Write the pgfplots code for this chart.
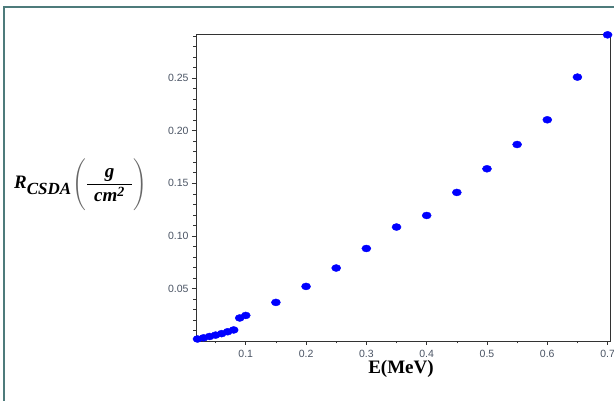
\documentclass[border=0pt]{standalone}
\usepackage{pgfplots}
\pgfplotsset{compat=1.18}
\usepackage{amsmath}
\usepackage{fontspec}
\setmainfont{Liberation Serif}
\newfontfamily\ticksfont{Liberation Sans}
\definecolor{framecol}{HTML}{4D7B7B}
\definecolor{tickcol}{HTML}{4A5464}

\begin{document}
\begin{tikzpicture}[x=1pt,y=1pt]
  \path[use as bounding box, fill=white] (0,0) rectangle (614,401);
  \draw[framecol, line width=1.6pt] (4,0) -- (4,394) -- (614,394);

  \begin{axis}[
    at={(196pt,60pt)}, anchor=south west,
    scale only axis, width=414pt, height=307pt,
    xmin=0.0175, xmax=0.704, ymin=0, ymax=0.292,
    axis line style={black!80, line width=0.7pt},
    tick align=outside, xtick pos=left, ytick pos=left,
    xtick={0.1,0.2,0.3,0.4,0.5,0.6,0.7},
    minor xtick={0.05,0.15,0.25,0.35,0.45,0.55,0.65},
    ytick={0.05,0.10,0.15,0.20,0.25},
    minor ytick={0.01,0.02,0.03,0.04,0.06,0.07,0.08,0.09,0.11,0.12,0.13,0.14,0.16,0.17,0.18,0.19,0.21,0.22,0.23,0.24,0.26,0.27,0.28,0.29},
    major tick length=4pt, minor tick length=2.5pt,
    tick style={black!80, line width=0.6pt},
    every tick label/.append style={font=\ticksfont\fontsize{10.5}{10.5}\selectfont, text=tickcol},
    xticklabel style={yshift=-2pt},
    /pgf/number format/assume math mode=true,
    xticklabel style={/pgf/number format/.cd, fixed, precision=1},
    yticklabel style={/pgf/number format/.cd, fixed, fixed zerofill, precision=2},
    scaled y ticks=false, scaled x ticks=false,
    clip=false,
  ]
    % CSDA range versus electron energy
    \addplot[only marks, mark=*, mark size=3.5pt, color=blue,
             mark options={xscale=1.3, draw=blue, fill=blue}]
      coordinates {
        (0.02,0.0019) (0.03,0.0030) (0.04,0.0043) (0.05,0.0056)
        (0.06,0.0070) (0.07,0.0088) (0.08,0.0105) (0.09,0.0219)
        (0.10,0.0243) (0.15,0.0367) (0.20,0.0519) (0.25,0.0694)
        (0.30,0.0880) (0.35,0.1084) (0.40,0.1194) (0.45,0.1413)
        (0.50,0.1638) (0.55,0.1869) (0.60,0.2104) (0.65,0.2510)
        (0.70,0.2912)
      };
  \end{axis}

  % axis titles
  \node[anchor=center, inner sep=0pt] at (401,32)
    {\fontsize{19}{19}\selectfont\bfseries E(MeV)};
  \node[anchor=base west, inner sep=0pt] at (14,212) {%
    \fontsize{19}{19}\selectfont\bfseries\itshape R\raisebox{-6pt}{\fontsize{17}{17}\selectfont CSDA}\hspace{1pt}%
    ${\color{black!60}\left(\vphantom{\rule[-24pt]{0pt}{50pt}}{\color{black}\dfrac{\mbox{\hspace{12pt}\bfseries\itshape g\hspace{12pt}}}{\mbox{\hspace{7pt}\bfseries\itshape cm}^{\mbox{\fontsize{14}{14}\selectfont\bfseries 2}}\hspace{7pt}}}\right)}$};
\end{tikzpicture}
\end{document}
